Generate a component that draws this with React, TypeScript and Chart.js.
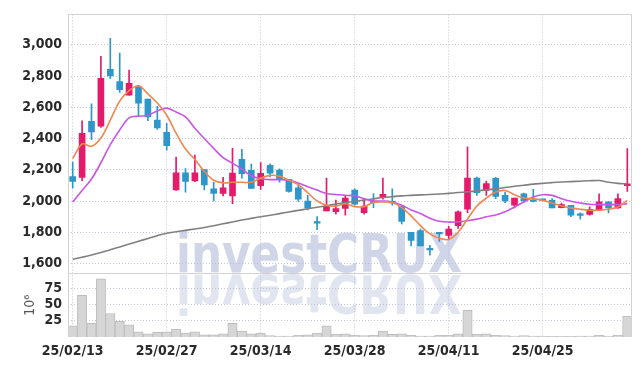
import React, { useEffect, useRef } from "react";
import { Chart, registerables } from "chart.js";

Chart.register(...registerables);

const dates = [
  "25/02/13", "25/02/14", "25/02/17", "25/02/18", "25/02/19", "25/02/20", "25/02/21", "25/02/24", "25/02/25", "25/02/26",
  "25/02/27", "25/02/28", "25/03/04", "25/03/05", "25/03/06", "25/03/07", "25/03/10", "25/03/11", "25/03/12", "25/03/13",
  "25/03/14", "25/03/17", "25/03/18", "25/03/19", "25/03/20", "25/03/21", "25/03/24", "25/03/25", "25/03/26", "25/03/27",
  "25/03/28", "25/03/31", "25/04/01", "25/04/02", "25/04/03", "25/04/04", "25/04/07", "25/04/08", "25/04/09", "25/04/10",
  "25/04/11", "25/04/14", "25/04/15", "25/04/16", "25/04/17", "25/04/18", "25/04/21", "25/04/22", "25/04/23", "25/04/24",
  "25/04/25", "25/04/28", "25/04/29", "25/04/30", "25/05/02", "25/05/07", "25/05/08", "25/05/09", "25/05/12", "25/05/13",
];

const opens = [
  2157, 2151, 2510, 2480, 2843, 2765, 2677, 2732, 2652, 2518,
  2440, 2071, 2180, 2128, 2201, 2078, 2048, 2032, 2267, 2196,
  2099, 2229, 2198, 2139, 2084, 2000, 1864, 1937, 1931, 1952,
  2070, 1926, 1994, 2027, 1995, 1968, 1800, 1811, 1692, 1796,
  1779, 1842, 1947, 2147, 2068, 2145, 2036, 1973, 2046, 2008,
  2006, 2004, 1958, 1973, 1913, 1914, 1941, 1994, 1956, 2099,
];
const closes = [
  2126, 2434, 2442, 2786, 2801, 2713, 2753, 2627, 2539, 2468,
  2354, 2180, 2126, 2180, 2103, 2048, 2084, 2179, 2175, 2080,
  2177, 2179, 2137, 2061, 2011, 1956, 1858, 1968, 1952, 2019,
  1979, 1968, 1989, 2042, 1988, 1870, 1748, 1712, 1687, 1790,
  1821, 1931, 2147, 2053, 2112, 2030, 2000, 2019, 2000, 1998,
  2004, 1956, 1977, 1910, 1908, 1946, 1994, 1956, 2015, 2110,
];
const highs = [
  2250, 2514, 2623, 2927, 3042, 2948, 2839, 2740, 2652, 2606,
  2497, 2281, 2208, 2294, 2201, 2120, 2152, 2337, 2331, 2236,
  2246, 2238, 2206, 2139, 2105, 2036, 1901, 2147, 2006, 2036,
  2078, 2015, 2048, 2147, 2078, 1968, 1800, 1821, 1716, 1800,
  1838, 1937, 2347, 2154, 2128, 2152, 2057, 2019, 2051, 2074,
  2010, 2015, 1987, 1973, 1924, 1962, 2046, 1994, 2046, 2335,
];
const lows = [
  2084, 2130, 2392, 2472, 2784, 2696, 2677, 2543, 2514, 2459,
  2325, 2068, 2057, 2124, 2071, 2000, 2032, 1983, 2147, 2080,
  2074, 2154, 2120, 2057, 1998, 1943, 1817, 1937, 1916, 1910,
  1973, 1916, 1957, 2011, 1973, 1853, 1712, 1712, 1653, 1741,
  1754, 1825, 1926, 2036, 2036, 2015, 1990, 1956, 1994, 1994,
  2000, 1956, 1956, 1899, 1884, 1910, 1941, 1924, 1952, 2061,
];
const volumes = [
  17, 63.7, 21, 88.9, 36, 24, 18.5, 8, 5, 7,
  8, 12, 6, 8, 3.5, 3.5, 5, 21, 9, 5,
  6, 2, 1.5, 1.5, 2.5, 3.5, 6, 17, 4.5, 5,
  2.5, 2, 2.5, 9, 4, 5, 2.5, 1.5, 1.5, 2.5,
  3, 5, 41, 4.5, 5, 2.5, 2, 1.5, 2, 1.5,
  1.5, 1, 1, 1, 1.5, 1.5, 2.5, 1.5, 2.5, 32,
];
const ma5 = [
  2271, 2365, 2350, 2403, 2518, 2640, 2707, 2738, 2686, 2627,
  2549, 2434, 2333, 2266, 2190, 2133, 2116, 2120, 2120, 2120,
  2147, 2164, 2158, 2133, 2105, 2053, 2000, 1973, 1968, 1982,
  1964, 1964, 1990, 1994, 1990, 1958, 1905, 1842, 1789, 1762,
  1754, 1800, 1884, 1968, 2018, 2057, 2067, 2040, 2019, 2015,
  2004, 1987, 1968, 1956, 1947, 1941, 1941, 1947, 1962, 2004,
];
const ma20 = [
  1994, 2067, 2141, 2245, 2361, 2455, 2533, 2543, 2549, 2577,
  2595, 2570, 2539, 2466, 2400, 2337, 2278, 2242, 2204, 2162,
  2143, 2137, 2137, 2133, 2116, 2091, 2070, 2048, 2042, 2036,
  2034, 2015, 2000, 2000, 1994, 1973, 1943, 1920, 1890, 1870,
  1865, 1867, 1874, 1884, 1899, 1910, 1931, 1962, 1994, 2025,
  2040, 2036, 2015, 1998, 1987, 1979, 1977, 1977, 1977, 1983,
];
const ma120 = [
  1627, 1640, 1654, 1670, 1688, 1706, 1724, 1742, 1760, 1778,
  1794, 1803, 1812, 1821, 1830, 1842, 1854, 1866, 1878, 1889,
  1899, 1909, 1919, 1930, 1940, 1950, 1960, 1970, 1980, 1990,
  1998, 2006, 2014, 2022, 2028, 2033, 2036, 2039, 2042, 2045,
  2049, 2054, 2059, 2065, 2071, 2078, 2086, 2094, 2101, 2108,
  2113, 2118, 2122, 2124, 2127, 2130, 2131, 2120, 2113, 2109,
];

const priceTicks = [1600, 1800, 2000, 2200, 2400, 2600, 2800, 3000];
const volumeTicks = [25, 50, 75];
const labelEvery = 10;
const priceRange = [1536, 3195];
const volumeRange = [0, 97.3];
const volumeUnit = "10⁶";
const watermarkText = "investCRUX";

const FONT = "'Liberation Sans Narrow', 'DejaVu Sans Condensed', 'Liberation Sans', sans-serif";
const UP = "#E41A6B";
const DOWN = "#2E96C8";
const GRID = "#C3C8D6";
const FRAME = "#D2D2D2";

const watermarkPlugin = {
  id: "watermark",
  beforeDatasetsDraw(chart: any) {
    const { ctx, chartArea } = chart;
    const py = chart.scales.y;
    const baseY = py.bottom - 1.5;
    ctx.save();
    ctx.beginPath();
    ctx.rect(chartArea.left, chartArea.top, chartArea.right - chartArea.left, chartArea.bottom - chartArea.top);
    ctx.clip();
    ctx.font = `bold 54px ${FONT}`;
    ctx.textBaseline = "alphabetic";
    const w = ctx.measureText(watermarkText).width;
    ctx.translate(176, baseY);
    ctx.scale(286 / w, 1);
    ctx.fillStyle = "rgba(176,186,216,0.6)";
    ctx.fillText(watermarkText, 0, 0);
    ctx.scale(1, -1);
    ctx.fillStyle = "rgba(176,186,216,0.38)";
    ctx.fillText(watermarkText, 0, -3);
    ctx.restore();
  },
};

const framePlugin = {
  id: "frame",
  afterDatasetsDraw(chart: any) {
    const { ctx, chartArea } = chart;
    const py = chart.scales.y;
    const l = Math.round(chartArea.left) + 0.5;
    const r = Math.round(chartArea.right) - 0.5;
    const t = Math.round(chartArea.top) + 0.5;
    const b = Math.round(chartArea.bottom) - 0.5;
    const s = Math.round(py.bottom) + 0.5;
    ctx.save();
    ctx.strokeStyle = FRAME;
    ctx.lineWidth = 1;
    ctx.beginPath();
    ctx.moveTo(l, b);
    ctx.lineTo(l, t);
    ctx.lineTo(r, t);
    ctx.lineTo(r, b);
    ctx.moveTo(l, s);
    ctx.lineTo(r, s);
    ctx.stroke();
    ctx.restore();
  },
};

export default function App() {
  const ref = useRef<HTMLCanvasElement | null>(null);

  useEffect(() => {
    if (!ref.current) return;
    const colors = opens.map((o, i) => (closes[i] >= o ? UP : DOWN));
    const tickFont = { family: FONT, size: 14, weight: "bold" as const };
    const chart = new Chart(ref.current, {
      type: "bar",
      data: {
        labels: dates,
        datasets: [
          { type: "line", label: "MA5", data: ma5, yAxisID: "y", borderColor: "#F0874E", borderWidth: 1.6, pointRadius: 0, tension: 0.35, order: 0 } as any,
          { type: "line", label: "MA20", data: ma20, yAxisID: "y", borderColor: "#C855E6", borderWidth: 1.6, pointRadius: 0, tension: 0.35, order: 0 },
          { type: "line", label: "MA120", data: ma120, yAxisID: "y", borderColor: "#808080", borderWidth: 1.6, pointRadius: 0, tension: 0.35, order: 0 },
          { type: "bar", label: "body", data: opens.map((o, i) => [o, closes[i]]), yAxisID: "y", backgroundColor: colors, barThickness: 6, minBarLength: 1.5, grouped: false, order: 1 },
          { type: "bar", label: "wick", data: lows.map((lo, i) => [lo, highs[i]]), yAxisID: "y", backgroundColor: colors, barThickness: 1, grouped: false, order: 2 },
          { type: "bar", label: "volume", data: volumes, yAxisID: "y2", backgroundColor: "#D6D6D6", borderColor: "#BDBDBD", borderWidth: 1, barPercentage: 1, categoryPercentage: 1, grouped: false, order: 3 },
        ] as any,
      },
      options: {
        animation: false,
        responsive: false,
        events: [],
        layout: { padding: { left: 0, right: 10, top: 9, bottom: 0 } },
        plugins: { legend: { display: false }, tooltip: { enabled: false } },
        scales: {
          x: {
            type: "category",
            offset: true,
            grid: { offset: false, drawTicks: false, color: (c: any) => (c.index % labelEvery === 0 ? GRID : "rgba(0,0,0,0)") },
            border: { display: false, dash: [1, 2] },
            ticks: { autoSkip: false, maxRotation: 0, padding: 6, color: "#2a2a2a", font: tickFont, callback: (_v: any, i: number) => (i % labelEvery === 0 ? dates[i] : "") },
            afterFit: (s: any) => { s.height = 29; },
          },
          y2: {
            type: "linear",
            position: "left",
            stack: "panels",
            stackWeight: 64.6,
            min: volumeRange[0],
            max: volumeRange[1],
            afterBuildTicks: (s: any) => { s.ticks = volumeTicks.map((v) => ({ value: v })); },
            grid: { color: GRID, drawTicks: false },
            border: { display: false, dash: [1, 2] },
            ticks: { autoSkip: false, padding: 6, color: "#2a2a2a", font: tickFont },
            title: { display: true, text: volumeUnit, color: "#555", font: { family: FONT, size: 14 }, padding: { top: 22, bottom: 0 } },
            afterFit: (s: any) => { s.width = 68; },
          },
          y: {
            type: "linear",
            position: "left",
            stack: "panels",
            stackWeight: 263.4,
            min: priceRange[0],
            max: priceRange[1],
            afterBuildTicks: (s: any) => { s.ticks = priceTicks.map((v) => ({ value: v })); },
            grid: { color: GRID, drawTicks: false },
            border: { display: false, dash: [1, 2] },
            ticks: { autoSkip: false, padding: 6, color: "#2a2a2a", font: tickFont, callback: (v: any) => Number(v).toLocaleString("en-US") },
            afterFit: (s: any) => { s.width = 68; },
          },
        } as any,
      },
      plugins: [watermarkPlugin, framePlugin],
    });
    return () => chart.destroy();
  }, []);

  return (
    <div style={{ position: "absolute", left: 0, top: 0, width: 642, height: 366, background: "#fff" }}>
      <canvas ref={ref} width={642} height={366} style={{ display: "block", width: 642, height: 366 }} />
    </div>
  );
}
